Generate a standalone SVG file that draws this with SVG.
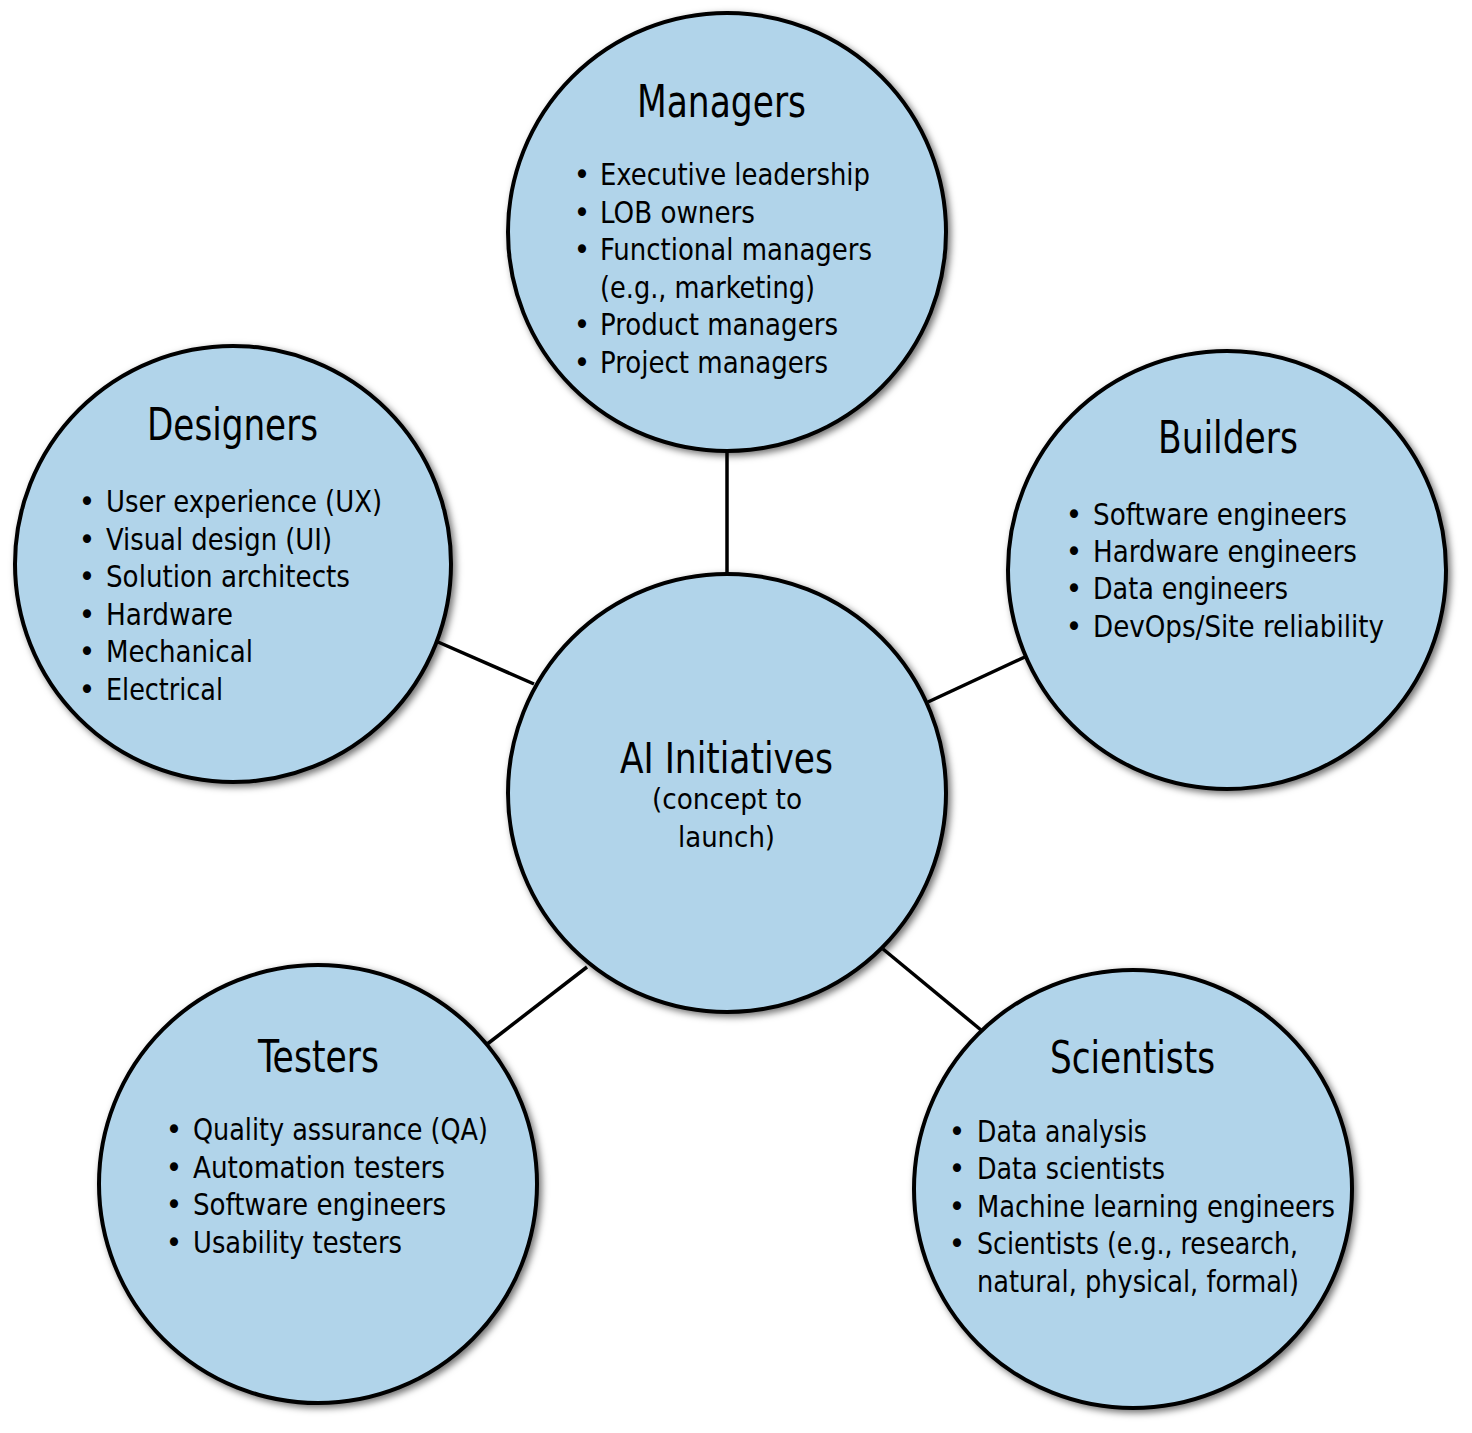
<svg xmlns="http://www.w3.org/2000/svg" width="1472" height="1433" viewBox="0 0 1472 1433">
<defs>
<filter id="sh" x="-10%" y="-10%" width="125%" height="125%">
<feDropShadow dx="3" dy="3" stdDeviation="3.5" flood-color="#000" flood-opacity="0.55"/>
</filter>
<style>
.c{fill:#b1d4ea;stroke:#000;stroke-width:4;filter:url(#sh)}
.l{stroke:#000;stroke-width:3.5;fill:none}
text{font-family:"Liberation Sans Narrow","DejaVu Sans Condensed","Liberation Sans",sans-serif;fill:#000}
.t{font-size:45px;text-anchor:middle}
.ct{font-size:43px;text-anchor:middle}
.i{font-size:31px}
.b{font-size:31px;text-anchor:middle}
.s{font-size:27.5px;text-anchor:middle}
</style>
</defs>
<rect width="1472" height="1433" fill="#fff"/>
<g id="connectors">
<line class="l" x1="727" y1="450" x2="727" y2="575"/>
<line class="l" x1="438" y1="642" x2="534" y2="684"/>
<line class="l" x1="928" y1="702" x2="1027" y2="656"/>
<line class="l" x1="486" y1="1045" x2="587" y2="967"/>
<line class="l" x1="883" y1="949" x2="981" y2="1030"/>
</g>
<g id="managers">
<circle class="c" cx="727" cy="232" r="219"/>
<text class="t" x="721.5" y="117" textLength="169" lengthAdjust="spacingAndGlyphs">Managers</text>
<text class="b" x="582" y="185">•</text><text class="i" x="600" y="185" textLength="270" lengthAdjust="spacingAndGlyphs">Executive leadership</text>
<text class="b" x="582" y="223">•</text><text class="i" x="600" y="223" textLength="155" lengthAdjust="spacingAndGlyphs">LOB owners</text>
<text class="b" x="582" y="260">•</text><text class="i" x="600" y="260" textLength="272" lengthAdjust="spacingAndGlyphs">Functional managers</text>
<text class="i" x="600" y="298" textLength="215" lengthAdjust="spacingAndGlyphs">(e.g., marketing)</text>
<text class="b" x="582" y="335">•</text><text class="i" x="600" y="335" textLength="238" lengthAdjust="spacingAndGlyphs">Product managers</text>
<text class="b" x="582" y="373">•</text><text class="i" x="600" y="373" textLength="228" lengthAdjust="spacingAndGlyphs">Project managers</text>
</g>
<g id="designers">
<circle class="c" cx="233" cy="564" r="218"/>
<text class="t" x="232.5" y="440" textLength="171" lengthAdjust="spacingAndGlyphs">Designers</text>
<text class="b" x="87" y="512">•</text><text class="i" x="106" y="512" textLength="276" lengthAdjust="spacingAndGlyphs">User experience (UX)</text>
<text class="b" x="87" y="550">•</text><text class="i" x="106" y="550" textLength="226" lengthAdjust="spacingAndGlyphs">Visual design (UI)</text>
<text class="b" x="87" y="587">•</text><text class="i" x="106" y="587" textLength="244" lengthAdjust="spacingAndGlyphs">Solution architects</text>
<text class="b" x="87" y="625">•</text><text class="i" x="106" y="625" textLength="127" lengthAdjust="spacingAndGlyphs">Hardware</text>
<text class="b" x="87" y="662">•</text><text class="i" x="106" y="662" textLength="147" lengthAdjust="spacingAndGlyphs">Mechanical</text>
<text class="b" x="87" y="700">•</text><text class="i" x="106" y="700" textLength="117" lengthAdjust="spacingAndGlyphs">Electrical</text>
</g>
<g id="builders">
<circle class="c" cx="1227" cy="570" r="219"/>
<text class="t" x="1228" y="453" textLength="140" lengthAdjust="spacingAndGlyphs">Builders</text>
<text class="b" x="1074" y="525">•</text><text class="i" x="1093" y="525" textLength="254" lengthAdjust="spacingAndGlyphs">Software engineers</text>
<text class="b" x="1074" y="562">•</text><text class="i" x="1093" y="562" textLength="264" lengthAdjust="spacingAndGlyphs">Hardware engineers</text>
<text class="b" x="1074" y="599">•</text><text class="i" x="1093" y="599" textLength="195" lengthAdjust="spacingAndGlyphs">Data engineers</text>
<text class="b" x="1074" y="637">•</text><text class="i" x="1093" y="637" textLength="291" lengthAdjust="spacingAndGlyphs">DevOps/Site reliability</text>
</g>
<g id="center">
<circle class="c" cx="727" cy="793" r="219"/>
<text class="ct" x="726.5" y="773" textLength="213" lengthAdjust="spacingAndGlyphs">AI Initiatives</text>
<text class="s" x="727" y="809" textLength="150" lengthAdjust="spacingAndGlyphs">(concept to</text>
<text class="s" x="726.5" y="847" textLength="97" lengthAdjust="spacingAndGlyphs">launch)</text>
</g>
<g id="testers">
<circle class="c" cx="318" cy="1184" r="219"/>
<text class="t" x="318.5" y="1072" textLength="121" lengthAdjust="spacingAndGlyphs">Testers</text>
<text class="b" x="174" y="1140">•</text><text class="i" x="193" y="1140" textLength="295" lengthAdjust="spacingAndGlyphs">Quality assurance (QA)</text>
<text class="b" x="174" y="1178">•</text><text class="i" x="193" y="1178" textLength="252" lengthAdjust="spacingAndGlyphs">Automation testers</text>
<text class="b" x="174" y="1215">•</text><text class="i" x="193" y="1215" textLength="253" lengthAdjust="spacingAndGlyphs">Software engineers</text>
<text class="b" x="174" y="1253">•</text><text class="i" x="193" y="1253" textLength="209" lengthAdjust="spacingAndGlyphs">Usability testers</text>
</g>
<g id="scientists">
<circle class="c" cx="1133" cy="1189" r="219"/>
<text class="t" x="1132.5" y="1073" textLength="165" lengthAdjust="spacingAndGlyphs">Scientists</text>
<text class="b" x="957" y="1142">•</text><text class="i" x="977" y="1142" textLength="170" lengthAdjust="spacingAndGlyphs">Data analysis</text>
<text class="b" x="957" y="1179">•</text><text class="i" x="977" y="1179" textLength="188" lengthAdjust="spacingAndGlyphs">Data scientists</text>
<text class="b" x="957" y="1217">•</text><text class="i" x="977" y="1217" textLength="358" lengthAdjust="spacingAndGlyphs">Machine learning engineers</text>
<text class="b" x="957" y="1254">•</text><text class="i" x="977" y="1254" textLength="321" lengthAdjust="spacingAndGlyphs">Scientists (e.g., research,</text>
<text class="i" x="977" y="1292" textLength="322" lengthAdjust="spacingAndGlyphs">natural, physical, formal)</text>
</g>
</svg>
